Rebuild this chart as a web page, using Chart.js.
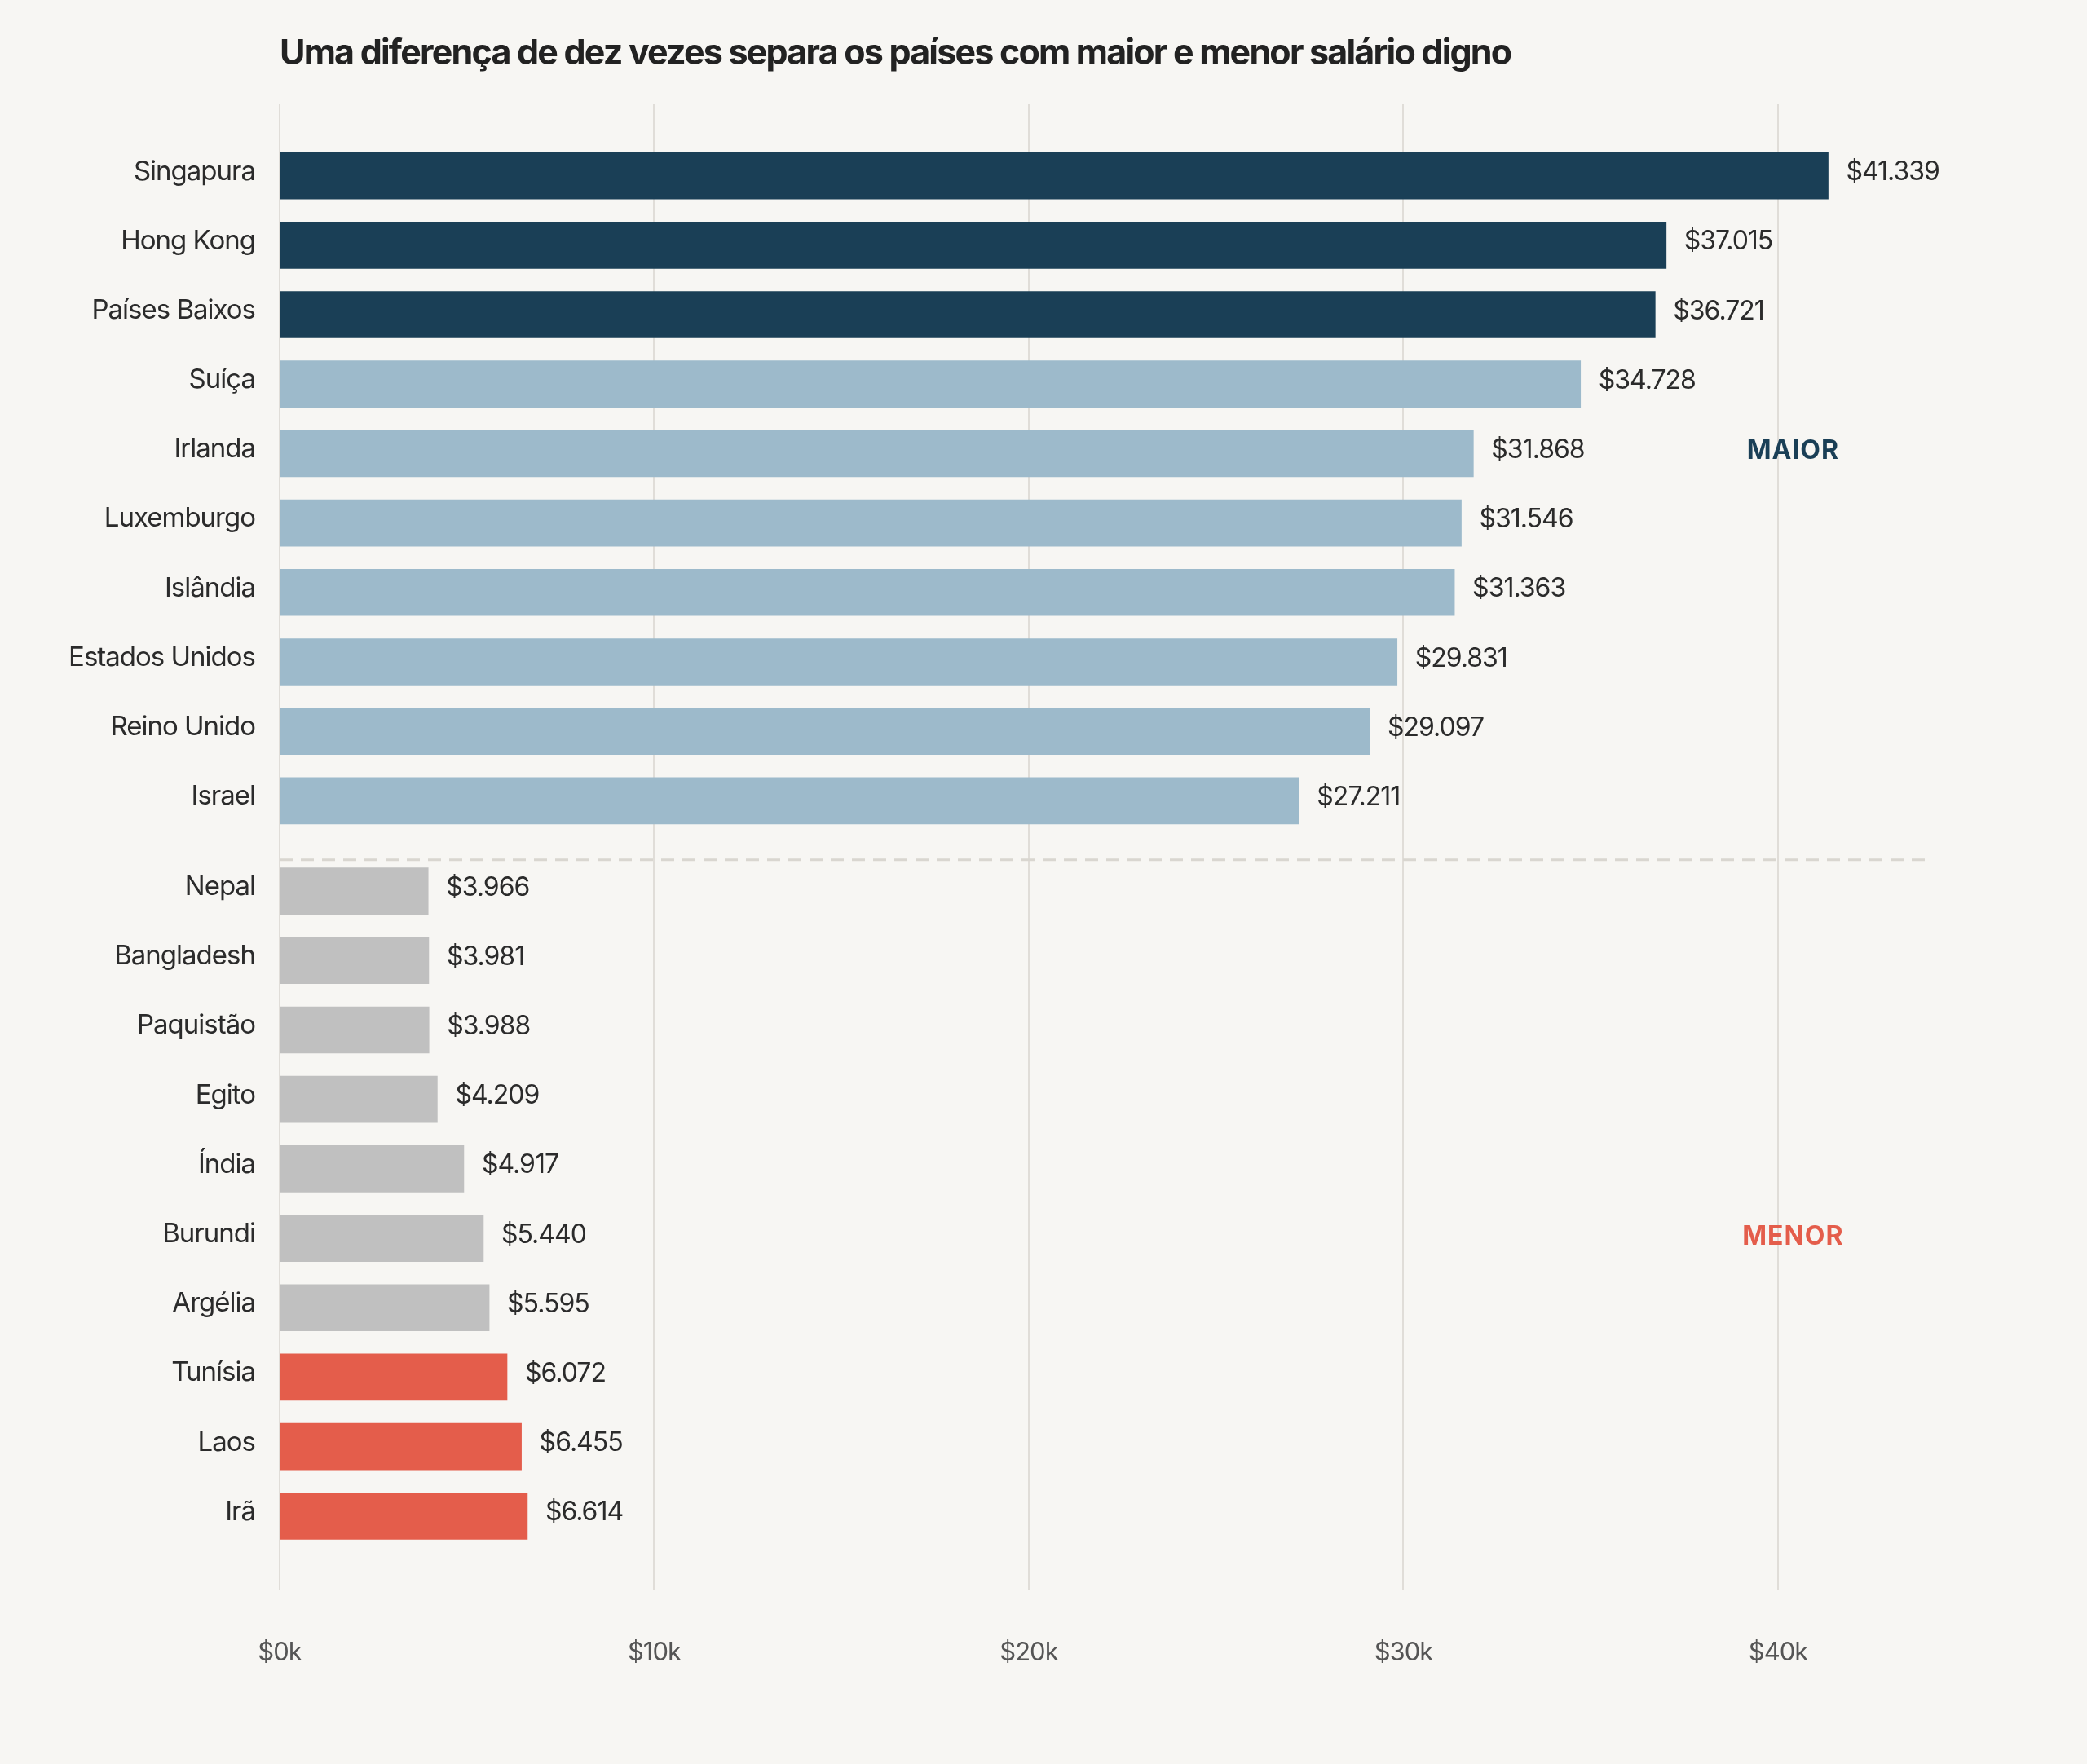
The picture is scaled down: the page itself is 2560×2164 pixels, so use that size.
<!DOCTYPE html>
<html lang="pt">
<head>
<meta charset="utf-8">
<title>Salário digno</title>
<script src="https://cdn.jsdelivr.net/npm/chart.js@4.4.1/dist/chart.umd.min.js"></script>
<style>
  html, body { margin: 0; padding: 0; background: #f7f6f3; }
  #wrap { width: 2560px; height: 2164px; position: relative; }
</style>
</head>
<body>
<div id="wrap"><canvas id="chart"></canvas></div>
<script>
// Dados
const topCountries = ['Singapura', 'Hong Kong', 'Países Baixos', 'Suíça', 'Irlanda',
  'Luxemburgo', 'Islândia', 'Estados Unidos', 'Reino Unido', 'Israel'];
const topValues = [41339, 37015, 36721, 34728, 31868, 31546, 31363, 29831, 29097, 27211];
const bottomCountries = ['Nepal', 'Bangladesh', 'Paquistão', 'Egito', 'Índia',
  'Burundi', 'Argélia', 'Tunísia', 'Laos', 'Irã'];
const bottomValues = [3966, 3981, 3988, 4209, 4917, 5440, 5595, 6072, 6455, 6614];
const xTicks = [0, 10000, 20000, 30000, 40000];
const groupLabels = ['MAIOR', 'MENOR'];

const FONT = 'Inter, "Noto Sans", sans-serif';
const countries = topCountries.concat(bottomCountries);
const values = topValues.concat(bottomValues);

// o grupo de baixo fica um pouco afastado do de cima
const GAP = 0.3;
const positions = countries.map((c, i) => i < topCountries.length ? i : i + GAP);

const colors = countries.map((c, i) => {
  if (i < 3) return '#1a3f56';
  if (i < topCountries.length) return '#9dbacb';
  if (i < countries.length - 3) return '#c0c0c0';
  return '#e45d4b';
});

const fmt = v => '$' + String(v).replace(/\B(?=(\d{3})+(?!\d))/g, '.');

const backgroundPlugin = {
  id: 'background',
  beforeDraw(chart) {
    const ctx = chart.ctx;
    ctx.save();
    ctx.fillStyle = '#f7f6f3';
    ctx.fillRect(0, 0, chart.width, chart.height);
    ctx.restore();
    ctx.letterSpacing = '-1px';
  }
};

const overlayPlugin = {
  id: 'overlay',
  afterDatasetsDraw(chart) {
    const ctx = chart.ctx;
    const xs = chart.scales.x;
    const ys = chart.scales.y;
    const area = chart.chartArea;
    const meta = chart.getDatasetMeta(0);
    ctx.save();

    // valores ao fim das barras
    ctx.font = '32px ' + FONT;
    ctx.letterSpacing = '-1px';
    ctx.fillStyle = '#2b2b2b';
    ctx.textAlign = 'left';
    ctx.textBaseline = 'middle';
    meta.data.forEach((bar, i) => {
      ctx.fillText(fmt(values[i]), bar.x + 22, bar.y - 4);
    });

    // linha tracejada entre os grupos
    const yDash = ys.getPixelForValue(topCountries.length - 1 + 0.85);
    ctx.strokeStyle = '#d9d6d0';
    ctx.lineWidth = 3;
    ctx.setLineDash([16, 10]);
    ctx.beginPath();
    ctx.moveTo(area.left, yDash);
    ctx.lineTo(area.right, yDash);
    ctx.stroke();
    ctx.setLineDash([]);

    // rótulos dos grupos
    ctx.font = 'bold 32px ' + FONT;
    ctx.letterSpacing = '1px';
    ctx.textAlign = 'center';
    const gx = xs.getPixelForValue(40400);
    ctx.fillStyle = '#1a3f56';
    ctx.fillText(groupLabels[0], gx, ys.getPixelForValue(positions[4]) - 3);
    ctx.fillStyle = '#e45d4b';
    ctx.fillText(groupLabels[1], gx, ys.getPixelForValue(positions[15]) - 2);

    // título
    ctx.font = 'bold 43px ' + FONT;
    ctx.letterSpacing = '-1.8px';
    ctx.fillStyle = '#222222';
    ctx.textAlign = 'left';
    ctx.textBaseline = 'alphabetic';
    ctx.fillText('Uma diferença de dez vezes separa os países com maior e menor salário digno', area.left, 79);

    ctx.restore();
  },
  afterDraw(chart) {
    chart.ctx.letterSpacing = '0px';
  }
};

new Chart(document.getElementById('chart'), {
  type: 'bar',
  data: {
    datasets: [{
      data: values.map((v, i) => ({ x: v, y: positions[i] })),
      backgroundColor: colors,
      borderWidth: 0,
      barThickness: 57
    }]
  },
  options: {
    indexAxis: 'y',
    responsive: true,
    maintainAspectRatio: false,
    animation: false,
    devicePixelRatio: 1,
    layout: { padding: { top: 127, right: 192, bottom: 0, left: 0 } },
    scales: {
      x: {
        type: 'linear',
        min: 0,
        max: 44070,
        afterBuildTicks(scale) {
          scale.ticks = xTicks.map(v => ({ value: v }));
        },
        afterFit(scale) { scale.height = 213; },
        grid: { color: '#e0ddd8', lineWidth: 2, drawTicks: false },
        border: { display: false },
        ticks: {
          padding: 58,
          color: '#555555',
          font: { family: FONT, size: 31 },
          callback: v => '$' + (v / 1000) + 'k'
        }
      },
      y: {
        type: 'linear',
        reverse: true,
        offset: false,
        min: -1.04,
        max: countries.length - 1 + GAP + 1.07,
        afterBuildTicks(scale) {
          scale.ticks = positions.map(p => ({ value: p }));
        },
        afterFit(scale) { scale.width = 343; },
        grid: { display: false, offset: false },
        border: { display: false },
        ticks: {
          padding: 22,
          labelOffset: -5,
          color: '#2b2b2b',
          autoSkip: false,
          font: { family: FONT, size: 33 },
          callback: (v, i) => countries[i]
        }
      }
    },
    plugins: {
      legend: { display: false },
      tooltip: { enabled: false },
      title: { display: false }
    }
  },
  plugins: [backgroundPlugin, overlayPlugin]
});
</script>
</body>
</html>
